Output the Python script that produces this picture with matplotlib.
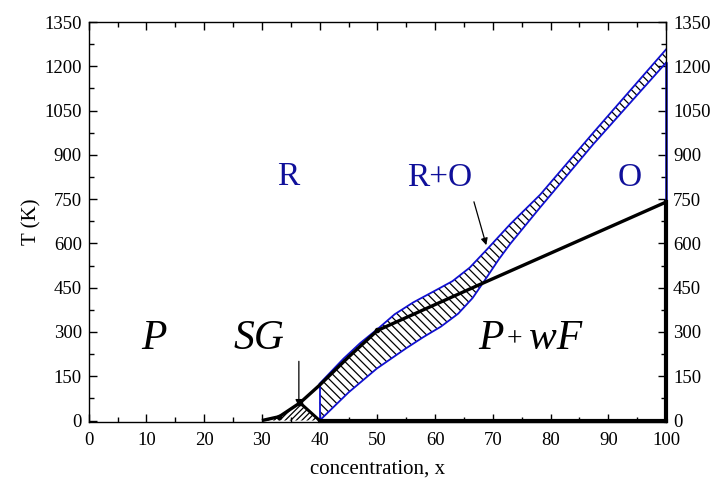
import matplotlib
matplotlib.use("Agg")
import matplotlib.pyplot as plt
from matplotlib.ticker import MultipleLocator

plt.rcParams["font.family"] = ["Liberation Serif", "DejaVu Serif"]
plt.rcParams["hatch.linewidth"] = 0.9

# ---- phase boundaries ----
# black boundary: P / SG / P+wF
black_x = [30, 33, 36.6, 40, 45, 50, 68, 100]
black_y = [0, 13, 60, 120, 215, 305, 463, 740]
# SG pocket (hatched triangle)
sg_x = [30, 33, 36.6, 40]
sg_y = [0, 13, 60, 0]
# R+O coexistence band, upper and lower blue edges
up_x = [40, 44.1, 47, 50.4, 53, 56.2, 60, 63, 66, 69, 73, 78.2, 87.4, 100]
up_y = [125, 209, 262, 316, 360, 400, 440, 472, 518, 580, 665, 765, 975, 1257]
lo_x = [40, 45, 49.9, 55, 58, 61, 64, 66.5, 68.5, 71, 73, 78.2, 87.4, 100]
lo_y = [0, 95, 176, 245, 283, 318, 362, 415, 472, 545, 598, 722, 936, 1212]
# markers on the black line
dot_x = [33, 36.6, 50]
dot_y = [13, 60, 305]

blue = "#10109a"
edge_blue = "#1010d0"

fig = plt.figure(figsize=(7.1, 4.79), dpi=100)
ax = fig.add_axes([0.125, 0.119, 0.813, 0.835])

# R+O band
ax.fill(up_x + lo_x[::-1], up_y + lo_y[::-1], facecolor="none", edgecolor="k",
        lw=0, hatch="\\\\\\\\")
ax.plot(up_x, up_y, color=edge_blue, lw=1.3)
ax.plot(lo_x, lo_y, color=edge_blue, lw=1.3)
ax.plot([40, 40], [0, 125], color=edge_blue, lw=1.3)
ax.plot([100, 100], [745, 1212], color=edge_blue, lw=1.8, clip_on=False)

# SG pocket
ax.fill(sg_x, sg_y, facecolor="none", edgecolor="k", lw=0, hatch="//////")
ax.plot([36.6, 40], [60, 0], color="k", lw=2.2)

# black boundary
ax.plot(black_x, black_y, color="k", lw=2.4, solid_capstyle="butt")
ax.plot(dot_x, dot_y, "o", color="k", ms=3)
ax.plot([40, 100], [0, 0], color="k", lw=3, clip_on=False)
ax.plot([100, 100], [0, 740], color="k", lw=3, clip_on=False)

# arrows
ax.annotate("", xy=(36.4, 38), xytext=(36.4, 210),
            arrowprops=dict(arrowstyle="-|>", color="k", lw=0.9, mutation_scale=10))
ax.annotate("", xy=(69.0, 585), xytext=(66.6, 750),
            arrowprops=dict(arrowstyle="-|>", color="k", lw=0.9, mutation_scale=10))

# region labels
ax.text(32.6, 797, "R", color=blue, fontsize=24, va="baseline")
ax.text(55.1, 795, "R+O", color=blue, fontsize=24, va="baseline")
ax.text(91.7, 794, "O", color=blue, fontsize=24, va="baseline")
ax.text(9.1, 243, "P", fontsize=30, style="italic", va="baseline")
ax.text(25.0, 243, "SG", fontsize=30, style="italic", va="baseline")
ax.text(67.4, 243, "P", fontsize=30, style="italic", va="baseline")
ax.text(72.4, 250, "+", fontsize=20, va="baseline")
ax.text(76.2, 243, "wF", fontsize=30, style="italic", va="baseline")

ax.set_xlim(0, 100)
ax.set_ylim(-5, 1350)
ax.xaxis.set_major_locator(MultipleLocator(10))
ax.xaxis.set_minor_locator(MultipleLocator(5))
ax.yaxis.set_major_locator(MultipleLocator(150))
ax.yaxis.set_minor_locator(MultipleLocator(75))
ax.tick_params(which="both", direction="in", top=True, right=True,
               labelright=True, labelsize=13.5)
ax.tick_params(which="major", length=6, width=1, pad=5)
ax.tick_params(axis="x", which="major", pad=7)
for t in ax.get_yticklabels(which="major"):
    pass
ax.tick_params(which="minor", length=3.5, width=1)
for sp in ax.spines.values():
    sp.set_linewidth(1.0)

ax.set_xlabel("concentration, x", fontsize=15, labelpad=8)
ax.set_ylabel("T (K)", fontsize=15, labelpad=2)

fig.savefig("out.png", dpi=100)
